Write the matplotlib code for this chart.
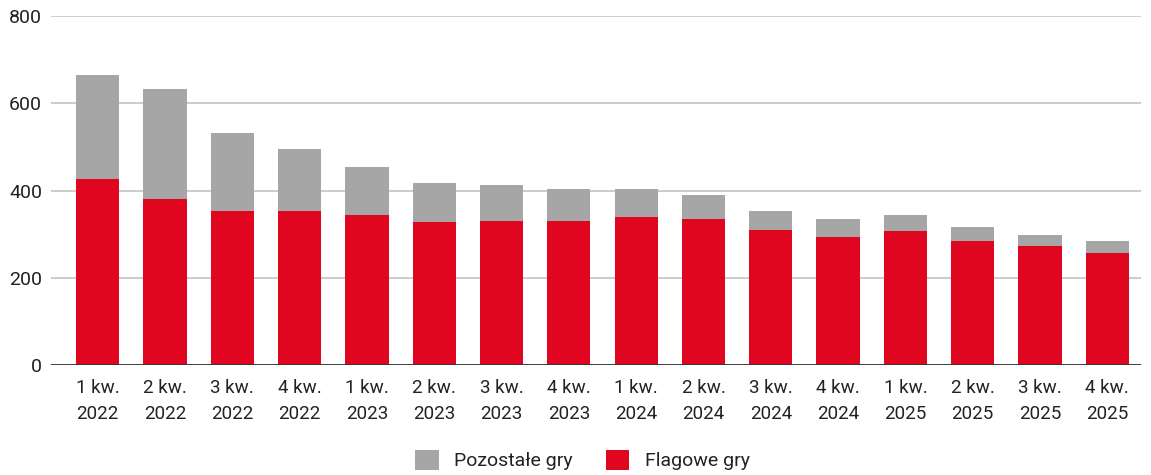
import matplotlib
matplotlib.use("Agg")
import matplotlib.pyplot as plt
from matplotlib.patches import Patch

plt.rcParams['font.family'] = ['Roboto', 'DejaVu Sans']

quarters = ["1 kw.\n2022", "2 kw.\n2022", "3 kw.\n2022", "4 kw.\n2022",
            "1 kw.\n2023", "2 kw.\n2023", "3 kw.\n2023", "4 kw.\n2023",
            "1 kw.\n2024", "2 kw.\n2024", "3 kw.\n2024", "4 kw.\n2024",
            "1 kw.\n2025", "2 kw.\n2025", "3 kw.\n2025", "4 kw.\n2025"]
flagowe = [427, 381, 354, 354, 345, 327, 331, 331, 340, 335, 309, 294, 307, 285, 272, 258]
pozostale = [237, 251, 178, 141, 109, 90, 82, 72, 63, 55, 44, 41, 37, 32, 26, 27]
y_ticks = [0, 200, 400, 600, 800]

RED = "#e10620"
GRAY = "#a6a6a6"
TEXT = "#222222"

fig = plt.figure(figsize=(11.51, 4.75), dpi=100)
ax = fig.add_axes([51 / 1151, 1 - 365.3 / 475, 1090 / 1151, 349.6 / 475])

x = list(range(len(quarters)))
width = 0.643
ax.bar(x, flagowe, width=width, color=RED, zorder=3, linewidth=0)
ax.bar(x, pozostale, width=width, bottom=flagowe, color=GRAY, zorder=3, linewidth=0)

ax.set_ylim(0, 800)
ax.set_xlim(-0.693, 15.5)
ax.set_yticks(y_ticks)
ax.set_yticklabels([str(v) for v in y_ticks], fontsize=14)
ax.set_xticks(x)
ax.set_xticklabels(quarters, linespacing=1.54, fontsize=13.5)

ax.grid(axis='y', color='#cccccc', linewidth=1.4, zorder=0)
ax.axhline(0, color='#333333', linewidth=2, zorder=4)
for s in ax.spines.values():
    s.set_visible(False)
ax.tick_params(axis='both', length=0, colors=TEXT)
ax.tick_params(axis='y', pad=6.5)
ax.tick_params(axis='x', pad=10)

handles = [Patch(facecolor=GRAY, edgecolor='none', label='Pozostałe gry'),
           Patch(facecolor=RED, edgecolor='none', label='Flagowe gry')]
fig.legend(handles=handles, loc='center', bbox_to_anchor=(582.5 / 1151, 1 - 460 / 475),
           ncol=2, frameon=False, fontsize=14, handlelength=1.2, handleheight=1.2,
           handletextpad=0.8, columnspacing=1.7, labelcolor=TEXT)

fig.savefig("out.png", dpi=100)
